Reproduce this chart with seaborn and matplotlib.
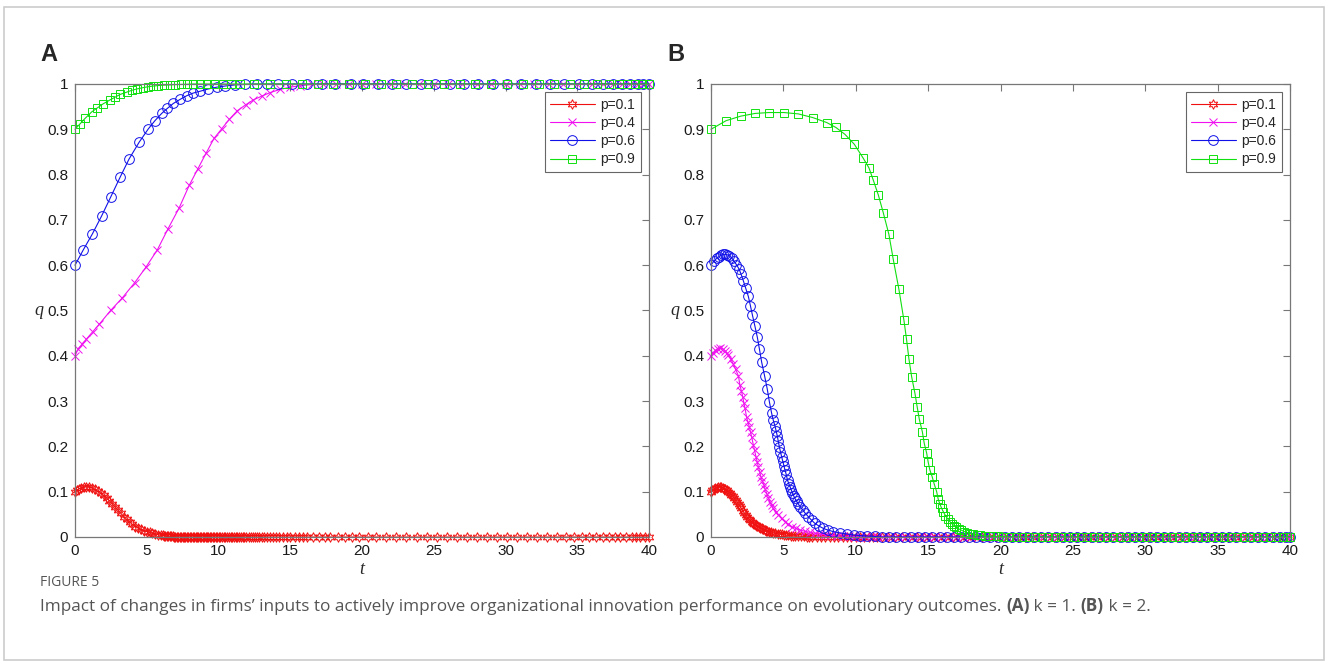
import matplotlib
matplotlib.use('Agg')
import matplotlib.pyplot as plt
import seaborn as sns
import pandas as pd
from matplotlib.patches import Rectangle

# ---------------- panel A (k = 1): (t, q) points ----------------
a_p01 = [(0, 0.100), (0.15, 0.104), (0.3, 0.107), (0.45, 0.109), (0.6, 0.110), (0.8, 0.111),
         (1.0, 0.110), (1.2, 0.108), (1.4, 0.105), (1.6, 0.101), (1.8, 0.097), (2.0, 0.092),
         (2.2, 0.086), (2.4, 0.080), (2.6, 0.073), (2.8, 0.066), (3.0, 0.059), (3.2, 0.052),
         (3.4, 0.045), (3.6, 0.039), (3.8, 0.033), (4.0, 0.028), (4.2, 0.023), (4.4, 0.020),
         (4.6, 0.017), (4.8, 0.014), (5.0, 0.012), (5.2, 0.010), (5.4, 0.008), (5.6, 0.0065),
         (5.8, 0.005), (6.0, 0.004), (6.1, 0.0035), (6.2, 0.003), (6.3, 0.0026), (6.4, 0.0022),
         (6.5, 0.0019), (6.6, 0.0016), (6.7, 0.0014), (6.8, 0.0012), (6.9, 0.001), (7.0, 0.0009)]
# times of the later steps, where q has settled
a_p01_tail = [7.1, 7.2, 7.3, 7.4, 7.5, 7.6, 7.7, 7.8, 7.9, 8.0, 8.1, 8.2, 8.3, 8.4, 8.5, 8.6, 8.7,
              8.8, 8.9, 9.0, 9.1, 9.2, 9.3, 9.4, 9.5, 9.6, 9.7, 9.8, 9.9, 10.0, 10.12, 10.24, 10.36,
              10.48, 10.6, 10.72, 10.84, 10.96, 11.08, 11.2, 11.32, 11.44, 11.56, 11.68, 11.8, 11.95,
              12.1, 12.25, 12.4, 12.55, 12.7, 12.85, 13.0, 13.2, 13.4, 13.6, 13.8, 14.0, 14.25, 14.5,
              14.75, 15.0, 15.3, 15.6, 15.9, 16.2, 16.6, 17.0, 17.4, 17.8, 18.3, 18.8, 19.3, 19.8,
              20.4, 21.0, 21.7, 22.4, 23.1, 23.8, 24.5, 25.2, 25.9, 26.6, 27.3, 28.0, 28.7, 29.4,
              30.1, 30.8, 31.5, 32.2, 32.9, 33.6, 34.2, 34.8, 35.3, 35.8, 36.3, 36.8, 37.2, 37.6,
              38.0, 38.4, 38.8, 39.1, 39.4, 39.7, 40.0]

a_p04 = [(0, 0.400), (0.23, 0.416), (0.5, 0.426), (0.77, 0.436), (1.23, 0.453), (1.70, 0.470),
         (2.48, 0.500), (3.3, 0.528), (4.15, 0.561), (4.93, 0.595), (5.74, 0.634), (6.46, 0.679),
         (7.25, 0.726), (7.97, 0.777), (8.55, 0.812), (9.13, 0.847), (9.69, 0.880), (10.22, 0.901),
         (10.75, 0.922), (11.31, 0.941), (11.89, 0.954), (12.43, 0.965), (13.0, 0.973),
         (13.59, 0.981), (14.29, 0.988), (14.98, 0.993), (15.68, 0.996), (16.49, 0.999)]
a_p04_tail = [17.3, 18.2, 19.1, 20.0, 21.0, 22.0, 23.0, 24.0, 25.0, 26.0, 27.0, 28.0, 29.0, 30.0,
              31.0, 32.0, 33.0, 34.0, 35.0, 36.0, 36.8, 37.5, 38.1, 38.7, 39.2, 39.6, 40.0]

a_p06 = [(0, 0.600), (0.58, 0.634), (1.21, 0.669), (1.86, 0.709), (2.48, 0.750), (3.14, 0.794),
         (3.76, 0.834), (4.46, 0.871), (5.11, 0.901), (5.57, 0.919), (6.04, 0.935), (6.43, 0.946),
         (6.85, 0.957), (7.32, 0.966), (7.78, 0.974), (8.24, 0.980), (8.71, 0.984), (9.29, 0.989),
         (9.87, 0.993), (10.45, 0.9955), (11.15, 0.998), (11.85, 0.999)]
a_p06_tail = [12.66, 13.36, 14.17, 15.1, 16.15, 17.2, 18.1, 19.2, 20.1, 21.1, 22.1, 23.1, 24.1,
              25.1, 26.1, 27.1, 28.1, 29.1, 30.1, 31.1, 32.1, 33.1, 34.1, 35.1, 36.0, 36.8, 37.5,
              38.1, 38.7, 39.2, 39.6, 40.0]

a_p09 = [(0, 0.900), (0.35, 0.912), (0.7, 0.924), (1.15, 0.938), (1.5, 0.946), (1.95, 0.956),
         (2.45, 0.965), (2.8, 0.971), (3.15, 0.977), (3.6, 0.982), (3.95, 0.986), (4.3, 0.989),
         (4.75, 0.992), (5.1, 0.994), (5.45, 0.9955), (5.8, 0.9966), (6.2, 0.9975), (6.6, 0.998),
         (7.0, 0.9987), (7.4, 0.9991), (7.8, 0.9994)]
a_p09_tail = [8.2, 8.7, 9.2, 9.7, 10.3, 10.9, 11.5, 12.5, 13.6, 14.7, 15.8, 16.9, 18.0, 19.1, 20.2,
              21.3, 22.4, 23.5, 24.6, 25.7, 26.8, 27.9, 29.0, 30.1, 31.2, 32.3, 33.4, 34.5, 35.5,
              36.4, 37.2, 37.9, 38.5, 39.0, 39.5, 40.0]

# ---------------- panel B (k = 2) ----------------
b_p01 = [(0, 0.100), (0.1, 0.103), (0.2, 0.106), (0.3, 0.108), (0.4, 0.109), (0.5, 0.110),
         (0.6, 0.110), (0.7, 0.110), (0.8, 0.109), (0.9, 0.107), (1.0, 0.105), (1.1, 0.103),
         (1.2, 0.100), (1.3, 0.097), (1.4, 0.093), (1.5, 0.090), (1.6, 0.086), (1.7, 0.082),
         (1.8, 0.078), (1.9, 0.073), (2.0, 0.068), (2.1, 0.063), (2.2, 0.058), (2.3, 0.053),
         (2.4, 0.049), (2.5, 0.044), (2.6, 0.040), (2.7, 0.037), (2.8, 0.034), (2.9, 0.031),
         (3.0, 0.028), (3.1, 0.026), (3.2, 0.024), (3.3, 0.022), (3.4, 0.020), (3.5, 0.019),
         (3.6, 0.017), (3.7, 0.016), (3.8, 0.014), (3.9, 0.013), (4.0, 0.012), (4.15, 0.011),
         (4.3, 0.0095), (4.45, 0.0083), (4.6, 0.0072), (4.75, 0.0064), (4.9, 0.0056),
         (5.05, 0.0049), (5.2, 0.0043), (5.35, 0.0038), (5.5, 0.0033), (5.65, 0.0029),
         (5.8, 0.0025), (6.0, 0.0021), (6.2, 0.0017), (6.4, 0.0014), (6.6, 0.0011), (6.8, 0.0009)]
b_p01_tail = [7.0, 7.3, 7.6, 7.9, 8.2, 8.5, 8.8, 9.1, 9.4, 9.7, 10.0, 10.3, 10.6, 10.9, 11.2, 11.5,
              11.8, 12.2, 12.7, 13.2, 13.7, 14.2, 14.7, 15.2, 15.7, 16.2, 16.7, 17.2, 17.7, 18.2,
              18.7, 19.2, 19.7, 20.2, 20.7, 21.2, 21.7, 22.2, 22.7, 23.2, 23.7, 24.2, 24.7, 25.2,
              25.7, 26.2, 26.7, 27.2, 27.7, 28.2, 28.7, 29.2, 29.7, 30.2, 30.7, 31.2, 31.7, 32.2,
              32.7, 33.2, 33.7, 34.2, 34.7, 35.2, 35.7, 36.2, 36.7, 37.2, 37.7, 38.2, 38.7, 39.2,
              39.6, 40.0]

b_p04 = [(0, 0.400), (0.15, 0.407), (0.3, 0.412), (0.45, 0.415), (0.62, 0.4165), (0.8, 0.415),
         (0.97, 0.411), (1.1, 0.406), (1.2, 0.401), (1.37, 0.392), (1.54, 0.382), (1.7, 0.370),
         (1.89, 0.356), (2.0, 0.335), (2.1, 0.322), (2.19, 0.310), (2.27, 0.296), (2.35, 0.284),
         (2.46, 0.264), (2.55, 0.254), (2.65, 0.243), (2.73, 0.232), (2.81, 0.221), (2.92, 0.204),
         (3.01, 0.191), (3.11, 0.177), (3.19, 0.166), (3.27, 0.155), (3.36, 0.144), (3.45, 0.133),
         (3.55, 0.124), (3.66, 0.114), (3.75, 0.105), (3.85, 0.096), (3.96, 0.087), (4.07, 0.078),
         (4.18, 0.070), (4.3, 0.063), (4.47, 0.056), (4.65, 0.049), (4.88, 0.041), (5.11, 0.034),
         (5.34, 0.028), (5.57, 0.023), (5.86, 0.019), (6.15, 0.0155), (6.5, 0.0125),
         (6.84, 0.0103), (7.2, 0.0083), (7.53, 0.0066), (7.9, 0.005), (8.3, 0.0037),
         (8.7, 0.0027), (9.1, 0.0019), (9.5, 0.0013), (9.9, 0.0009)]
b_p04_tail = [10.3, 10.7, 11.1, 11.5, 11.9, 12.4, 12.9, 13.4, 13.9, 14.4, 14.9, 15.4, 15.9, 16.4,
              16.9, 17.4, 17.9, 18.4, 18.9, 19.4, 19.9, 20.4, 20.9, 21.4, 21.9, 22.4, 22.9, 23.4,
              23.9, 24.4, 24.9, 25.4, 25.9, 26.4, 26.9, 27.4, 27.9, 28.4, 28.9, 29.4, 29.9, 30.4,
              30.9, 31.4, 31.9, 32.4, 32.9, 33.4, 33.9, 34.4, 34.9, 35.4, 35.9, 36.4, 36.9, 37.4,
              37.9, 38.4, 38.9, 39.4, 39.8, 40.0]

b_p06 = [(0, 0.600), (0.2, 0.609), (0.39, 0.615), (0.55, 0.619), (0.69, 0.6225), (0.83, 0.624),
         (0.97, 0.624), (1.12, 0.623), (1.27, 0.621), (1.43, 0.616), (1.59, 0.609), (1.76, 0.601),
         (1.93, 0.592), (2.08, 0.580), (2.23, 0.566), (2.4, 0.549), (2.58, 0.531), (2.72, 0.511),
         (2.86, 0.490), (3.03, 0.466), (3.2, 0.441), (3.35, 0.414), (3.5, 0.386), (3.7, 0.356),
         (3.89, 0.326), (4.03, 0.299), (4.19, 0.273), (4.3, 0.258), (4.42, 0.245), (4.5, 0.234),
         (4.58, 0.223), (4.65, 0.211), (4.72, 0.199), (4.8, 0.188), (4.88, 0.177), (4.96, 0.167),
         (5.04, 0.157), (5.11, 0.148), (5.18, 0.140), (5.29, 0.125), (5.37, 0.118), (5.46, 0.111),
         (5.54, 0.104), (5.62, 0.098), (5.71, 0.091), (5.8, 0.085), (5.91, 0.079), (6.03, 0.073),
         (6.18, 0.066), (6.33, 0.060), (6.52, 0.052), (6.72, 0.045), (6.95, 0.037), (7.18, 0.030),
         (7.47, 0.024), (7.76, 0.019), (8.1, 0.015), (8.45, 0.012), (8.9, 0.009), (9.37, 0.0066),
         (9.85, 0.0045), (10.3, 0.003), (10.8, 0.002), (11.3, 0.0012)]
b_p06_tail = [11.8, 12.3, 12.8, 13.3, 13.8, 14.3, 14.8, 15.3, 15.8, 16.3, 16.8, 17.3, 17.8, 18.3,
              18.8, 19.3, 19.8, 20.3, 20.8, 21.3, 21.8, 22.3, 22.8, 23.3, 23.8, 24.3, 24.8, 25.3,
              25.8, 26.3, 26.8, 27.3, 27.8, 28.3, 28.8, 29.3, 29.8, 30.3, 30.8, 31.3, 31.8, 32.3,
              32.8, 33.3, 33.8, 34.3, 34.8, 35.3, 35.8, 36.3, 36.8, 37.3, 37.8, 38.3, 38.8, 39.3,
              39.7, 40.0]

b_p09 = [(0, 0.900), (1.04, 0.919), (2.05, 0.929), (3.04, 0.935), (4.0, 0.937), (5.04, 0.937),
         (6.03, 0.934), (7.02, 0.926), (7.99, 0.915), (8.63, 0.904), (9.25, 0.889), (9.9, 0.867),
         (10.52, 0.836), (10.91, 0.815), (11.21, 0.788), (11.56, 0.755), (11.9, 0.716),
         (12.29, 0.668), (12.59, 0.613), (12.98, 0.547), (13.33, 0.478), (13.51, 0.436),
         (13.67, 0.394), (13.86, 0.354), (14.09, 0.317), (14.25, 0.286), (14.39, 0.260),
         (14.6, 0.2325), (14.73, 0.207), (14.9, 0.185), (15.0, 0.166), (15.12, 0.148),
         (15.28, 0.133), (15.42, 0.117), (15.59, 0.100), (15.7, 0.083), (15.82, 0.072),
         (15.94, 0.063), (16.06, 0.055), (16.2, 0.047), (16.35, 0.040), (16.5, 0.034),
         (16.65, 0.029), (16.8, 0.025), (16.96, 0.021), (17.12, 0.018), (17.3, 0.015),
         (17.5, 0.012), (17.7, 0.0095), (17.9, 0.0077), (18.1, 0.0062), (18.35, 0.0048),
         (18.6, 0.0037), (18.9, 0.0028), (19.2, 0.0021), (19.5, 0.0016), (19.8, 0.0012),
         (20.2, 0.0009)]
b_p09_tail = [20.6, 21.05, 21.5, 21.95, 22.4, 22.85, 23.3, 23.75, 24.2, 24.65, 25.1, 25.55, 26.0,
              26.45, 26.9, 27.35, 27.8, 28.25, 28.7, 29.15, 29.6, 30.05, 30.5, 30.95, 31.4, 31.85,
              32.3, 32.75, 33.2, 33.65, 34.1, 34.55, 35.0, 35.45, 35.9, 36.35, 36.8, 37.25, 37.7,
              38.15, 38.6, 39.05, 39.5, 39.8, 40.0]

labels = ['p=0.1', 'p=0.4', 'p=0.6', 'p=0.9']
colors = ['#f01010', '#f010f0', '#1010e8', '#10e010']
markers = [(6, 1, 0), 'x', 'o', 's']
msizes = [7, 5.5, 7, 6]
xticks = [0, 5, 10, 15, 20, 25, 30, 35, 40]
yticks = [0, 0.1, 0.2, 0.3, 0.4, 0.5, 0.6, 0.7, 0.8, 0.9, 1]
yticklabels = ['0', '0.1', '0.2', '0.3', '0.4', '0.5', '0.6', '0.7', '0.8', '0.9', '1']

panel_a = [(a_p01, a_p01_tail, 0.0), (a_p04, a_p04_tail, 1.0),
           (a_p06, a_p06_tail, 1.0), (a_p09, a_p09_tail, 1.0)]
panel_b = [(b_p01, b_p01_tail, 0.0), (b_p04, b_p04_tail, 0.0),
           (b_p06, b_p06_tail, 0.0), (b_p09, b_p09_tail, 0.0)]

sns.set_style('white')
plt.rcParams['font.family'] = ['Liberation Sans', 'DejaVu Sans']

W, H = 1328, 664
fig = plt.figure(figsize=(W / 100, H / 100), dpi=100)


def box(l, t, r, b):
    return [l / W, 1 - b / H, (r - l) / W, (b - t) / H]


ax_a = fig.add_axes(box(75, 84, 649, 537))
ax_b = fig.add_axes(box(711, 84, 1290, 537))

for ax, panel in [(ax_a, panel_a), (ax_b, panel_b)]:
    for (pts, tail, level), lab, c, m, ms in zip(panel, labels, colors, markers, msizes):
        t = [p[0] for p in pts] + tail
        q = [p[1] for p in pts] + [level] * len(tail)
        df = pd.DataFrame({'t': t, 'q': q})
        sns.lineplot(data=df, x='t', y='q', ax=ax, sort=False, estimator=None,
                     color=c, marker=m, markersize=ms, mfc='none', mec=c, mew=0.7,
                     lw=0.8, label=lab, clip_on=False)
    ax.set_xlim(0, 40)
    ax.set_ylim(0, 1)
    ax.set_xticks(xticks)
    ax.set_xticklabels([str(x) for x in xticks])
    ax.set_yticks(yticks)
    ax.set_yticklabels(yticklabels)
    ax.tick_params(direction='in', top=True, right=True, length=5, width=0.8,
                   color='#777777', labelsize=11, labelcolor='#1a1a1a', pad=5)
    for s in ax.spines.values():
        s.set_color('#777777')
        s.set_linewidth(0.9)
    ax.set_xlabel('t', fontstyle='italic', family='Liberation Serif', fontsize=13, labelpad=2)
    ax.set_ylabel('q', fontstyle='italic', family='Liberation Serif', fontsize=13,
                  rotation=0, labelpad=6, va='center')
    leg = ax.legend(loc='upper right', fontsize=10, handlelength=3.2, handletextpad=0.4,
                    labelspacing=0.3, borderpad=0.4, borderaxespad=0.6, fancybox=False,
                    framealpha=1)
    leg.get_frame().set_edgecolor('#666666')
    leg.get_frame().set_linewidth(0.8)

fig.text(40 / W, 1 - 61 / H, 'A', fontsize=17, fontweight='bold', va='baseline')
fig.text(667 / W, 1 - 61 / H, 'B', fontsize=17, fontweight='bold', va='baseline')

# outer frame around the whole figure
fig.patches.append(Rectangle((4 / W, 4 / H), 1 - 8 / W, 1 - 11 / H, transform=fig.transFigure,
                             fill=False, edgecolor='#cccccc', lw=1.2))

cap_font = ['Open Sans', 'DejaVu Sans']
fig.text(40 / W, 1 - 586 / H, 'FIGURE 5', fontsize=10, color='#555555', family=cap_font,
         va='baseline')

pieces = [('Impact of changes in firms\u2019 inputs to actively improve organizational innovation '
           'performance on evolutionary outcomes. ', 'normal'),
          ('(A)', 'bold'), (' k = 1. ', 'normal'), ('(B)', 'bold'), (' k = 2.', 'normal')]
fig.canvas.draw()
renderer = fig.canvas.get_renderer()
x = 40
for txt, wt in pieces:
    tx = fig.text(x / W, 1 - 611 / H, txt, fontsize=12.3, color='#555555', family=cap_font,
                  fontweight=wt, va='baseline')
    x += tx.get_window_extent(renderer).width

fig.savefig('out.png', dpi=100)
